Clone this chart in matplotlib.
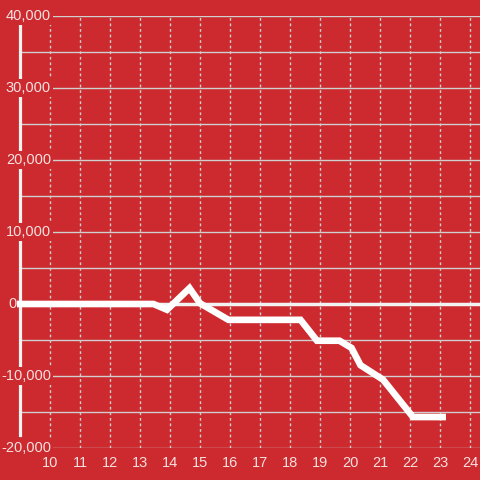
import numpy as np
import matplotlib
matplotlib.use("Agg")
import matplotlib.pyplot as plt

# values
hours = [8.9, 13.45, 13.9, 14.65, 15.0, 15.95, 18.35, 18.9, 19.65, 20.05, 20.35, 21.1, 22.1, 23.2]
values = [0, 0, -800, 2200, 100, -2200, -2200, -5100, -5100, -6100, -8500, -10500, -15700, -15700]

x_ticks = list(range(10, 25))
y_labels = [40000, 30000, 20000, 10000, 0, -10000, -20000]
y_grid = list(range(-15000, 40000, 10000))

bg = '#cc2a2e'
grid_col = '#cfcfcf'
txt_col = '#f6e0e0'

plt.rcParams['font.family'] = ['Liberation Sans', 'DejaVu Sans']

fig = plt.figure(figsize=(4.8, 4.8), dpi=100, facecolor=bg)
ax = fig.add_axes([20 / 480, 32 / 480, 460 / 480, 432 / 480], facecolor=bg)
ax.set_xlim(9, 9 + 460 / 30)
ax.set_ylim(-20000, 40000)

for s in ['top', 'right', 'bottom']:
    ax.spines[s].set_visible(False)
ax.spines['left'].set_color('#f2f2f2')
ax.spines['left'].set_linewidth(2.3)
ax.spines['left'].set_bounds(-18200, 38900)

# grid
for v in x_ticks:
    ax.axvline(v, color=grid_col, lw=1, linestyle=(0, (2, 2)), zorder=1)
for v in y_grid + y_labels:
    if v != 0:
        ax.axhline(v, color=grid_col, lw=1, zorder=1)
ax.axhline(0, color='#f2f2f2', lw=2.5, zorder=2, xmin=-0.007, clip_on=False)

ax.plot(hours, values, color='white', lw=4.8, solid_joinstyle='miter',
        solid_capstyle='butt', zorder=6, clip_on=False)

ax.set_xticks(x_ticks)
ax.set_xticklabels([str(v) for v in x_ticks])
ax.set_yticks([])
ax.tick_params(axis='x', length=0, pad=6, labelsize=10.5, colors=txt_col)

for v in y_labels:
    if v == 0:
        ax.text(9 - 12 / 30, v, "0", ha='left', va='center', fontsize=10.5, color=txt_col,
                zorder=5, bbox=dict(facecolor=bg, edgecolor='none', pad=1.5))
    else:
        ax.text(10.03, v, f"{v:,}", ha='right', va='center', fontsize=10.5, color=txt_col,
                zorder=5, bbox=dict(facecolor=bg, edgecolor='none', pad=1.5))

fig.savefig('out.png', dpi=100, facecolor=bg)
